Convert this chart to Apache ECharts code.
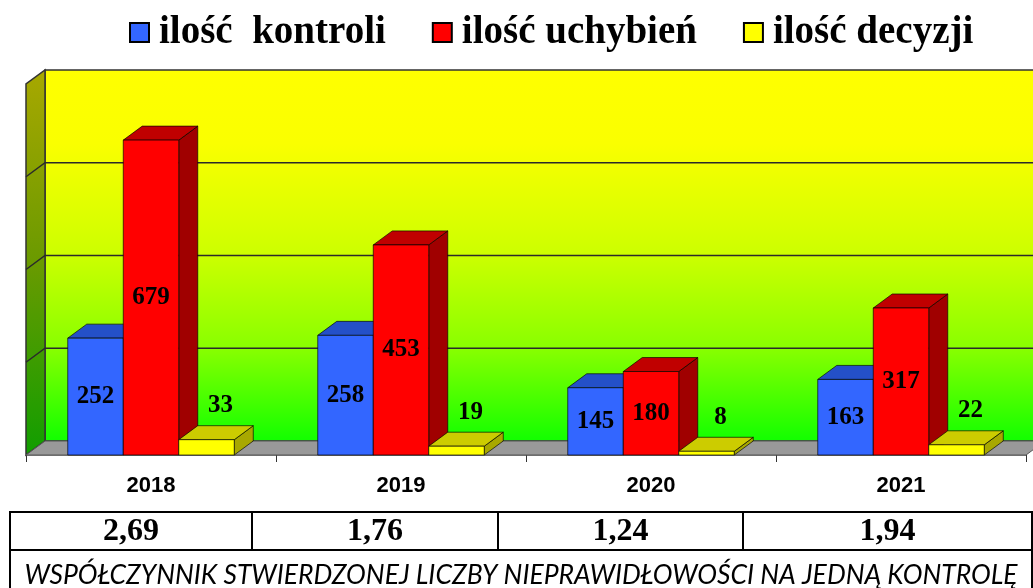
<!DOCTYPE html>
<html>
<head>
<meta charset="utf-8">
<script src="https://cdn.jsdelivr.net/npm/echarts@6/dist/echarts.min.js"></script>
<style>
  html, body { margin: 0; padding: 0; background: #fff; }
  #wykres { width: 1033px; height: 588px; }
</style>
</head>
<body>
<div id="wykres"></div>
<script>
// Dane
const lata = ['2018', '2019', '2020', '2021'];
const nazwySerii = ['ilość  kontroli', 'ilość uchybień', 'ilość decyzji'];
const kontrole = [252, 258, 145, 163];
const uchybienia = [679, 453, 180, 317];
const decyzje = [33, 19, 8, 22];
const wspolczynnik = ['2,69', '1,76', '1,24', '1,94'];
const opisTabeli = 'WSPÓŁCZYNNIK STWIERDZONEJ LICZBY NIEPRAWIDŁOWOŚCI NA JEDNĄ KONTROLĘ';

// glebokosc efektu 3D
const DX = 19, DY = -14;
// kolumny tabeli pod wykresem
const kolumnyTabeli = [10, 252, 498, 743, 1032];
const wierszeTabeli = [512, 550, 592];

const kolory = [
    { front: '#3366ff', top: '#2450c8', side: '#1f3fa0' },
    { front: '#ff0000', top: '#c00000', side: '#a00000' },
    { front: '#ffff00', top: '#cccc00', side: '#a8a800' }
];

// tlo 3D: sciana tylna, boczna, podloga i linie siatki
function rysujSciany(params, api) {
    const cs = params.coordSys;
    const x0 = cs.x, x1 = cs.x + cs.width;
    const yb = api.coord([0, 0])[1];
    const yt = api.coord([0, 800])[1];
    const children = [];
    // sciana tylna
    children.push({
        type: 'rect',
        shape: { x: x0 + DX, y: yt + DY, width: cs.width + 40, height: yb - yt },
        style: {
            fill: new echarts.graphic.LinearGradient(0, 0, 0, 1, [
                { offset: 0, color: '#ffff00' },
                { offset: 0.2, color: '#faff00' },
                { offset: 0.5, color: '#ccff00' },
                { offset: 0.75, color: '#88ff00' },
                { offset: 1, color: '#11ff00' }
            ]),
            stroke: '#333', lineWidth: 1.5
        }
    });
    // sciana boczna
    children.push({
        type: 'polygon',
        shape: { points: [[x0, yb], [x0 + DX, yb + DY], [x0 + DX, yt + DY], [x0, yt]] },
        style: {
            fill: new echarts.graphic.LinearGradient(0, 0, 0, 1, [
                { offset: 0, color: '#a8a800' },
                { offset: 0.5, color: '#6a9a00' },
                { offset: 1, color: '#109e00' }
            ]),
            stroke: '#333', lineWidth: 1.5
        }
    });
    // linie siatki
    [200, 400, 600].forEach(v => {
        const y = api.coord([0, v])[1];
        children.push({
            type: 'polyline',
            shape: { points: [[x0, y], [x0 + DX, y + DY], [x1 + DX + 20, y + DY]] },
            style: { stroke: '#2a2a2a', lineWidth: 1.5, fill: null }
        });
    });
    // podloga
    children.push({
        type: 'polygon',
        shape: { points: [[x0, yb], [x1, yb], [x1 + DX, yb + DY], [x0 + DX, yb + DY]] },
        style: { fill: '#999999', stroke: '#555', lineWidth: 1 }
    });
    return { type: 'group', children: children };
}

function rysujSlupek(k, etykietaNad) {
    return function (params, api) {
        const kat = api.value(0);
        const wart = api.value(1);
        const szczyt = api.coord([kat, wart]);
        const podstawa = api.coord([kat, 0]);
        const szer = api.size([1, 0])[0] * 0.222;
        const x = szczyt[0] + (k - 1.5) * szer;
        const yT = szczyt[1], yB = podstawa[1];
        const c = kolory[k];
        const krawedz = { stroke: 'rgba(0,0,0,0.65)', lineWidth: 1 };
        const children = [
            {
                type: 'polygon',
                shape: { points: [[x + szer, yT], [x + szer + DX, yT + DY], [x + szer + DX, yB + DY], [x + szer, yB]] },
                style: Object.assign({ fill: c.side }, krawedz)
            },
            {
                type: 'polygon',
                shape: { points: [[x, yT], [x + szer, yT], [x + szer + DX, yT + DY], [x + DX, yT + DY]] },
                style: Object.assign({ fill: c.top }, krawedz)
            },
            {
                type: 'rect',
                shape: { x: x, y: yT, width: szer, height: yB - yT },
                style: Object.assign({ fill: c.front }, krawedz)
            }
        ];
        let lx, ly;
        if (etykietaNad) {
            lx = x + szer / 2 + 14;
            ly = yT + DY - 20;
        } else {
            lx = x + szer / 2;
            ly = (yT + yB) / 2;
        }
        children.push({
            type: 'text',
            style: {
                text: String(wart), x: lx, y: ly,
                align: 'center', verticalAlign: 'middle',
                font: 'bold 25px "Liberation Serif"', fill: '#000'
            }
        });
        return { type: 'group', children: children };
    };
}

function daneSerii(arr) {
    return arr.map((v, i) => [i, v]);
}

// tabela ze wspolczynnikami
function budujTabele() {
    const el = [];
    for (let i = 0; i < wspolczynnik.length; i++) {
        const l = kolumnyTabeli[i], r = kolumnyTabeli[i + 1];
        el.push({
            type: 'rect',
            shape: { x: l, y: wierszeTabeli[0], width: r - l, height: wierszeTabeli[1] - wierszeTabeli[0] },
            style: { fill: '#fff', stroke: '#000', lineWidth: 2 }
        });
        el.push({
            type: 'text',
            style: {
                text: wspolczynnik[i],
                x: (l + r) / 2, y: (wierszeTabeli[0] + wierszeTabeli[1]) / 2 + 1,
                align: 'center', verticalAlign: 'middle',
                font: 'bold 32px "Liberation Serif"', fill: '#000'
            }
        });
    }
    const L = kolumnyTabeli[0], R = kolumnyTabeli[kolumnyTabeli.length - 1];
    el.push({
        type: 'rect',
        shape: { x: L, y: wierszeTabeli[1], width: R - L, height: wierszeTabeli[2] - wierszeTabeli[1] },
        style: { fill: '#fff', stroke: '#000', lineWidth: 2 }
    });
    el.push({
        type: 'text',
        style: {
            text: opisTabeli,
            x: (L + R) / 2, y: wierszeTabeli[1] + 25,
            align: 'center', verticalAlign: 'middle',
            font: 'italic 26.5px "Lato"', fill: '#000'
        }
    });
    return el;
}

function iniciar() {
    const chartDom = document.getElementById('wykres');
    const myChart = echarts.init(chartDom, null, { renderer: 'canvas' });

    const option = {
        backgroundColor: '#fff',
        animation: false,
        legend: {
            top: 8,
            left: 124,
            data: nazwySerii,
            icon: 'rect',
            itemWidth: 19,
            itemHeight: 19,
            itemGap: 46,
            itemStyle: { borderColor: '#000', borderWidth: 2 },
            textStyle: { fontFamily: 'Liberation Serif', fontWeight: 'bold', fontSize: 39, color: '#000', padding: [0, 0, 0, 5] }
        },
        grid: { left: 26, right: 7, top: 84, bottom: 133 },
        xAxis: {
            type: 'category',
            data: lata,
            axisLine: { show: true, lineStyle: { color: '#888', width: 1 } },
            axisTick: { show: true, length: 7, lineStyle: { color: '#333' } },
            axisLabel: { margin: 20, fontFamily: 'Liberation Sans', fontWeight: 'bold', fontSize: 22, color: '#000' },
            splitLine: { show: false }
        },
        yAxis: {
            type: 'value',
            min: 0, max: 800, interval: 200,
            show: false
        },
        series: [
            {
                type: 'custom', name: 'tlo', silent: true, z: 1, clip: false,
                renderItem: rysujSciany, data: [[0, 0]]
            },
            {
                type: 'custom', name: nazwySerii[0], z: 2, clip: false,
                itemStyle: { color: kolory[0].front },
                renderItem: rysujSlupek(0, false), data: daneSerii(kontrole)
            },
            {
                type: 'custom', name: nazwySerii[1], z: 3, clip: false,
                itemStyle: { color: kolory[1].front },
                renderItem: rysujSlupek(1, false), data: daneSerii(uchybienia)
            },
            {
                type: 'custom', name: nazwySerii[2], z: 4, clip: false,
                itemStyle: { color: kolory[2].front },
                renderItem: rysujSlupek(2, true), data: daneSerii(decyzje)
            }
        ],
        graphic: budujTabele()
    };

    myChart.setOption(option);
}

iniciar();
</script>
</body>
</html>
